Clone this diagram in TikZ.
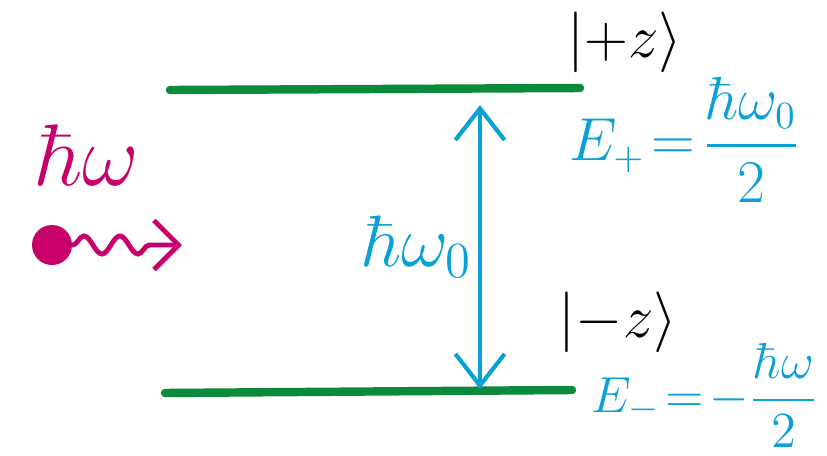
\documentclass[tikz,border=0pt]{standalone}
\usepackage{amsmath}
\usepackage{tikz}
\usetikzlibrary{arrows.meta,positioning,decorations.pathmorphing}
\definecolor{levelGreen}{HTML}{0B8A3B}
\definecolor{gapBlue}{HTML}{0AA0D8}
\definecolor{photonPink}{HTML}{C8006A}
\tikzset{
  level/.style={line width=2.4pt, draw=levelGreen, line cap=round},
  gaparrow/.style={{Straight Barb[length=9pt,width=14pt]}-{Straight Barb[length=9pt,width=14pt]}, line width=1.2pt, draw=gapBlue},
  statelabel/.style={font=\fontsize{17}{20}\selectfont, text=black, inner sep=1pt},
  energylabel/.style={font=\fontsize{16}{19}\selectfont, text=gapBlue, inner sep=1pt},
  photonlabel/.style={font=\fontsize{25}{29}\selectfont, text=photonPink},
  photon/.style={line width=1.4pt, draw=photonPink, line cap=round,
    decorate, decoration={snake, amplitude=0.9mm, segment length=3.6mm, post length=2mm}}
}
\begin{document}
\begin{tikzpicture}
  \useasboundingbox (0,0) rectangle (8.27,4.55);
  % energy levels
  \coordinate (upL) at (1.70,3.65);
  \coordinate (upR) at (5.80,3.67);
  \coordinate (loL) at (1.65,0.62);
  \coordinate (loR) at (5.72,0.65);
  \draw[level] (upL) -- (upR);
  \draw[level] (loL) -- (loR);

  \node[statelabel] (plus) at (6.25,4.13) {$|{+}z\rangle$};
  \node[energylabel] (eplus) at (6.85,3.15) {$E_+\!=\!\dfrac{\hbar\omega_0}{2}$};
  \node[statelabel] (minus) at (6.18,1.33) {$|{-}z\rangle$};
  \node[energylabel, font=\fontsize{15}{18}\selectfont] (eminus) at (7.05,0.60) {$E_-\!=\!{-}\dfrac{\hbar\omega}{2}$};

  % transition
  \coordinate (gapTop) at (4.80,3.50);
  \coordinate (gapBot) at (4.80,0.66);
  \draw[gaparrow] (gapTop) -- (gapBot);
  \node[energylabel, font=\fontsize{21}{25}\selectfont] (gap) at (4.18,2.08) {$\hbar\omega_0$};

  % incoming photon
  \node[photonlabel] (hw) at (0.88,3.00) {$\hbar\omega$};
  \node[circle, fill=photonPink, minimum size=4mm, inner sep=0pt] (dot) at (0.52,2.10) {};
  \coordinate (tip) at (1.82,2.10);
  \draw[photon, -{Straight Barb[length=7pt,width=14pt]}] (dot.east) -- (tip);
\end{tikzpicture}
\end{document}
